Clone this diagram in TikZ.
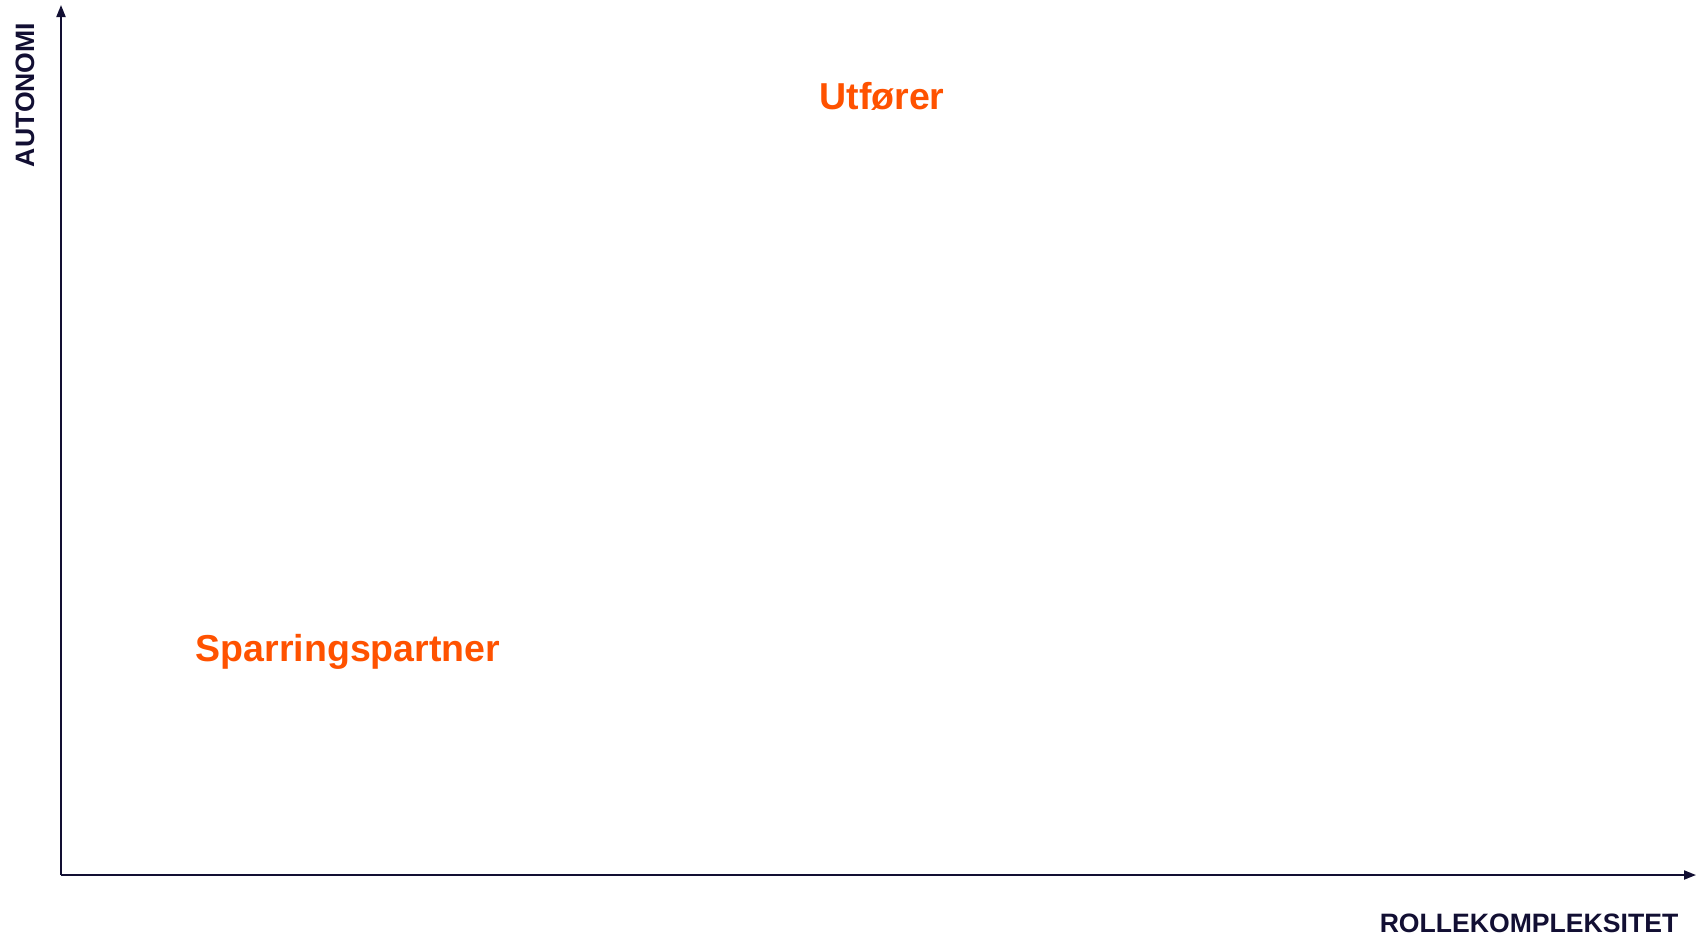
\documentclass[tikz,border=0pt]{standalone}
\usepackage{fontspec}
\setmainfont{Liberation Sans}
\usetikzlibrary{arrows.meta}
\definecolor{rolecolor}{HTML}{FF5200}
\definecolor{axiscolor}{HTML}{120F33}
\tikzset{
	axisstyle/.style={draw=axiscolor, line width=2pt, -{Triangle[length=12pt, width=9pt]}},
	axislabel/.style={text=axiscolor, font=\fontsize{26.6}{30}\selectfont\bfseries, inner sep=0pt, anchor=base},
	rolestyle/.style={text=rolecolor, font=\fontsize{37.5}{42}\selectfont\bfseries, inner sep=0pt, anchor=base}
}
\begin{document}
\begin{tikzpicture}[x=1pt, y=-1pt]

\useasboundingbox (0, 0) rectangle (1696, 937);

\coordinate (origin) at (61, 875);
\coordinate (ytop) at (61, 5);
\coordinate (xend) at (1696, 875);

\draw[axisstyle] (origin)--(ytop);
\draw[axisstyle] (origin)--(xend);

\node[axislabel, rotate=90] (autonomi) at (34, 95) {AUTONOMI};
\node[axislabel] (kompleksitet) at (1529, 932) {ROLLEKOMPLEKSITET};

\node[rolestyle] (utforer) at (882, 109) {Utfører};
\node[rolestyle] (sparring) at (348, 661) {Sparringspartner};
\end{tikzpicture}
\end{document}
